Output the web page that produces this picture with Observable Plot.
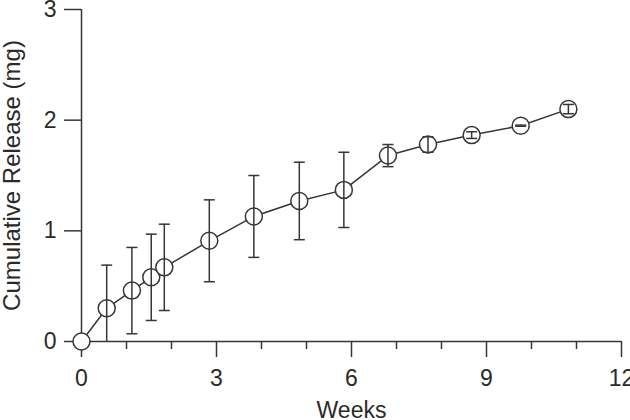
<!DOCTYPE html>
<html>
<head>
<meta charset="utf-8">
<script src="https://cdn.jsdelivr.net/npm/d3@7"></script>
<script src="https://cdn.jsdelivr.net/npm/@observablehq/plot@0.6"></script>
<style>
  html, body { margin: 0; padding: 0; background: #fff; }
  #chart { width: 630px; height: 420px; }
</style>
</head>
<body>
<div id="chart"></div>
<script>
// Data
const weeks   = [0, 0.56, 1.12, 1.55, 1.84, 2.84, 3.83, 4.84, 5.83, 6.81, 7.70, 8.67, 9.76, 10.82];
const release = [0, 0.30, 0.46, 0.58, 0.67, 0.91, 1.13, 1.27, 1.37, 1.68, 1.78, 1.865, 1.95, 2.10];
const errors  = [0, 0.39, 0.39, 0.39, 0.39, 0.37, 0.37, 0.35, 0.34, 0.10, 0.07, 0.03, 0.005, 0.042];
const xTicks = [0, 3, 6, 9, 12];
const xMinorTicks = [1, 2, 4, 5, 7, 8, 10, 11];
const yTicks = [0, 1, 2, 3];

const rows = weeks.map((w, i) => ({
  w, r: release[i], e: errors[i],
  lo: Math.max(0, release[i] - errors[i]),
  hi: release[i] + errors[i],
  loCap: release[i] - errors[i] >= 0
}));
const withErr = rows.filter(d => d.e > 0);

const ink = "#363636";
const capSymbol = {
  draw(context, size) {
    const r = Math.sqrt(size / Math.PI);
    context.moveTo(-r, 0);
    context.lineTo(r, 0);
  }
};

const chart = Plot.plot({
  width: 630,
  height: 420,
  marginLeft: 81,
  marginRight: 9,
  marginTop: 9,
  marginBottom: 79,
  style: { fontFamily: "'Liberation Sans', Arial, sans-serif", fontSize: "22px", color: "#2a2a2a", background: "#fff", overflow: "visible" },
  x: { domain: [0, 12] },
  y: { domain: [0, 3] },
  marks: [
    Plot.axisX(xMinorTicks, { tickSize: 8, tickFormat: () => "", stroke: ink, strokeWidth: 1.5, strokeOpacity: 1, label: null }),
    Plot.axisX(xTicks, { tickSize: 16, tickPadding: 12, tickFormat: "d", stroke: ink, strokeWidth: 1.5, strokeOpacity: 1, fill: "#2a2a2a", fontSize: 23,
      label: "Weeks", labelAnchor: "center", labelArrow: "none", labelOffset: 76 }),
    Plot.axisY(yTicks, { tickSize: 17, tickPadding: 8, tickFormat: "d", stroke: ink, strokeWidth: 1.5, strokeOpacity: 1, fill: "#2a2a2a", fontSize: 23,
      label: null }),
    Plot.axisY([], { tickSize: 0, stroke: "none", fontSize: 24, fill: "#2a2a2a",
      label: "Cumulative Release (mg)", labelAnchor: "center", labelArrow: "none", labelOffset: 79 }),
    Plot.ruleY([0], { stroke: ink, strokeWidth: 1.5 }),
    Plot.ruleX([0], { stroke: ink, strokeWidth: 1.5 }),
    Plot.line(rows, { x: "w", y: "r", stroke: ink, strokeWidth: 1.5 }),
    Plot.dot(rows, { x: "w", y: "r", r: 8.5, fill: "white", stroke: ink, strokeWidth: 1.5 }),
    Plot.ruleX(withErr, { x: "w", y1: "lo", y2: "hi", stroke: ink, strokeWidth: 1.5 }),
    Plot.dot(withErr, { x: "w", y: "hi", symbol: capSymbol, r: 5.5, stroke: ink, strokeWidth: 1.5 }),
    Plot.dot(withErr.filter(d => d.loCap), { x: "w", y: "lo", symbol: capSymbol, r: 5.5, stroke: ink, strokeWidth: 1.5 })
  ]
});
document.getElementById("chart").appendChild(chart);
</script>
</body>
</html>
